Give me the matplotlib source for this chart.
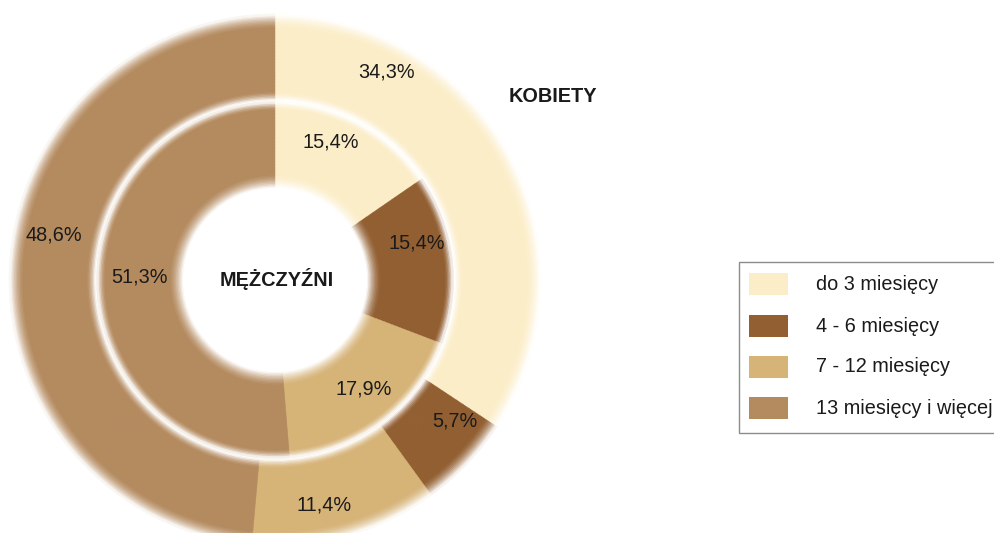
import numpy as np
import matplotlib
matplotlib.use("Agg")
import matplotlib.pyplot as plt
from matplotlib.patches import Rectangle
from matplotlib.colors import to_rgb

# ---------------- data ----------------
categories = ["do 3 miesięcy", "4 - 6 miesięcy", "7 - 12 miesięcy", "13 miesięcy i więcej"]
kobiety = [34.3, 5.7, 11.4, 48.6]      # outer ring
mezczyzni = [15.4, 15.4, 17.9, 51.3]   # inner ring
series_names = ["KOBIETY", "MĘŻCZYŹNI"]
colors = ["#FBEDC7", "#925F32", "#D6B377", "#B48A5F"]

# ---------------- layout ----------------
W, H = 995, 533
plt.rcParams["font.family"] = ["Liberation Sans", "DejaVu Sans"]
fig = plt.figure(figsize=(W / 100, H / 100), dpi=100)
ax = fig.add_axes([0, 0, 1, 1])

cx, cy = 275, H - 280
FS = 14.3


def fade(d, fw):
    if d >= fw:
        return 0.0
    t = 1 - d / fw
    return t ** 1.6


def ring(vals, r_in, r_out, fw_in, fw_out, n=60):
    edges = np.linspace(r_in, r_out, n + 1)
    base = [np.array(to_rgb(c)) for c in colors]
    white = np.ones(3)
    for k in range(n):
        r0, r1 = edges[k], edges[k + 1]
        rm = 0.5 * (r0 + r1)
        m = max(fade(rm - r_in, fw_in), fade(r_out - rm, fw_out))
        cols = [tuple(c * (1 - m) + white * m) for c in base]
        wedges, _ = ax.pie(vals, radius=r1, startangle=90, counterclock=False,
                           center=(cx, cy), colors=cols, normalize=True,
                           wedgeprops=dict(width=(r1 - r0) + 0.6, linewidth=0.4))
        for w in wedges:
            w.set_edgecolor(w.get_facecolor())


ring(kobiety, 180.5, 266, 9, 14)
ring(mezczyzni, 93, 178.5, 14, 8)

ax.set_xlim(0, W)
ax.set_ylim(0, H)
ax.set_aspect("equal")
ax.axis("off")

# value labels
def fmt(v):
    return f"{v:.1f}%".replace(".", ",")

outer_pos = [(387, 72), (455, 421), (324, 505), (54, 235)]
inner_pos = [(331, 142), (417, 243), (364, 389), (139, 277)]
for v, (x, y) in zip(kobiety, outer_pos):
    ax.text(x, H - y, fmt(v), fontsize=FS, ha="center", va="center", color="#1a1a1a")
for v, (x, y) in zip(mezczyzni, inner_pos):
    ax.text(x, H - y, fmt(v), fontsize=FS, ha="center", va="center", color="#1a1a1a")

ax.text(553, H - 96, series_names[0], fontsize=FS, fontweight="bold",
        ha="center", va="center", color="#1a1a1a")
ax.text(277, H - 279, series_names[1], fontsize=FS, fontweight="bold",
        ha="center", va="center", color="#1a1a1a")

# legend
ax.add_patch(Rectangle((739, H - 433), 300, 171, facecolor="white",
                       edgecolor="#8c8c8c", linewidth=1.0, clip_on=False, zorder=5))
row_y = [284, 326, 367, 408]
for c, lab, y in zip(colors, categories, row_y):
    ax.add_patch(Rectangle((749, H - y - 11), 39, 22, facecolor=c,
                           edgecolor="none", zorder=6))
    ax.text(816, H - y, lab, fontsize=FS, ha="left", va="center",
            color="#1a1a1a", zorder=7)

fig.savefig("out.png", dpi=100)
